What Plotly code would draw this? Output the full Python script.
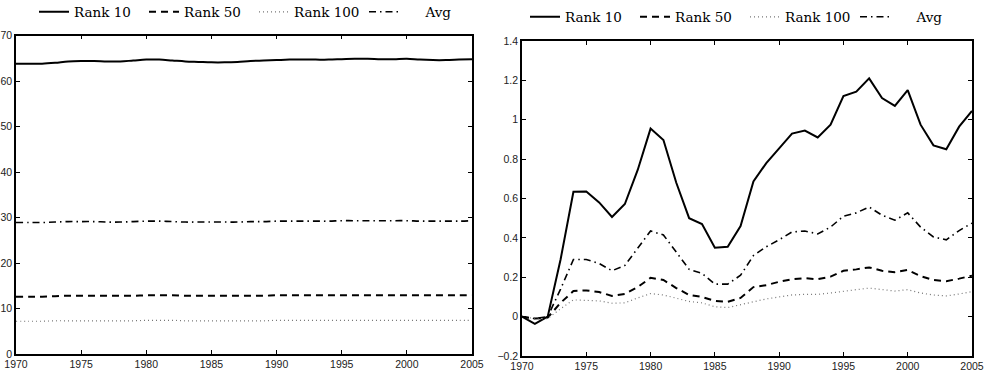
import plotly.graph_objects as go

years = list(range(1970, 2006))

# Left panel: levels
lvl_rank10 = [63.8, 63.8, 63.8, 64.0, 64.3, 64.4, 64.4, 64.3, 64.3, 64.5, 64.7, 64.7,
              64.5, 64.3, 64.2, 64.1, 64.1, 64.2, 64.4, 64.5, 64.6, 64.7, 64.7, 64.7,
              64.7, 64.8, 64.9, 64.9, 64.8, 64.8, 64.9, 64.7, 64.6, 64.6, 64.7, 64.8]
lvl_rank50 = [12.6, 12.6, 12.6, 12.7, 12.8, 12.8, 12.8, 12.8, 12.8, 12.8, 12.9, 12.9,
              12.9, 12.8, 12.8, 12.8, 12.8, 12.8, 12.8, 12.8, 12.9, 12.9, 12.9, 12.9,
              12.9, 12.9, 12.9, 12.9, 12.9, 12.9, 12.9, 12.9, 12.9, 12.9, 12.9, 12.9]
lvl_rank100 = [7.2, 7.2, 7.2, 7.3, 7.3, 7.3, 7.3, 7.3, 7.3, 7.3, 7.4, 7.4,
               7.4, 7.3, 7.3, 7.3, 7.3, 7.3, 7.3, 7.3, 7.4, 7.4, 7.4, 7.4,
               7.4, 7.4, 7.4, 7.4, 7.4, 7.4, 7.4, 7.4, 7.4, 7.4, 7.4, 7.4]
lvl_avg = [28.9, 28.9, 28.9, 29.0, 29.1, 29.1, 29.1, 29.0, 29.0, 29.1, 29.2, 29.2,
           29.1, 29.0, 29.0, 29.0, 29.0, 29.0, 29.1, 29.1, 29.2, 29.2, 29.2, 29.2,
           29.2, 29.3, 29.3, 29.3, 29.3, 29.3, 29.3, 29.2, 29.2, 29.2, 29.2, 29.3]

# Right panel: changes relative to 1970
chg_rank10 = [0.0, -0.037, 0.0, 0.29, 0.634, 0.636, 0.58, 0.506, 0.572, 0.745, 0.955, 0.897,
              0.68, 0.50, 0.47, 0.35, 0.355, 0.46, 0.687, 0.78, 0.855, 0.93, 0.945, 0.91,
              0.975, 1.12, 1.143, 1.21, 1.11, 1.07, 1.15, 0.975, 0.87, 0.85, 0.965, 1.045]
chg_rank50 = [0.0, -0.01, -0.005, 0.07, 0.13, 0.133, 0.125, 0.105, 0.115, 0.15, 0.197, 0.186,
              0.145, 0.11, 0.10, 0.08, 0.075, 0.095, 0.15, 0.16, 0.177, 0.19, 0.195, 0.19,
              0.203, 0.233, 0.24, 0.25, 0.233, 0.226, 0.237, 0.206, 0.186, 0.18, 0.193, 0.208]
chg_rank100 = [0.0, -0.01, -0.01, 0.04, 0.085, 0.082, 0.08, 0.068, 0.07, 0.095, 0.117, 0.11,
               0.095, 0.077, 0.07, 0.05, 0.046, 0.06, 0.077, 0.09, 0.10, 0.11, 0.113, 0.113,
               0.12, 0.13, 0.137, 0.145, 0.137, 0.13, 0.137, 0.12, 0.11, 0.105, 0.115, 0.127]
chg_avg = [0.0, -0.01, 0.0, 0.14, 0.29, 0.29, 0.27, 0.233, 0.26, 0.35, 0.435, 0.415,
           0.33, 0.24, 0.22, 0.165, 0.165, 0.21, 0.31, 0.355, 0.39, 0.43, 0.435, 0.42,
           0.455, 0.51, 0.527, 0.557, 0.515, 0.49, 0.527, 0.455, 0.405, 0.39, 0.437, 0.475]

series_names = ["Rank 10", "Rank 50", "Rank 100", "\u00a0" * 5 + "Avg"]
styles = [
    dict(color="black", width=2, dash="solid"),
    dict(color="black", width=2, dash="7px,5px"),
    dict(color="#777777", width=1.2, dash="1px,3px"),
    dict(color="black", width=1.6, dash="7px,4px,1.5px,4px"),
]

W, H = 985, 373
fig = go.Figure()

left_sets = [lvl_rank10, lvl_rank50, lvl_rank100, lvl_avg]
right_sets = [chg_rank10, chg_rank50, chg_rank100, chg_avg]

for name, ys, st in zip(series_names, left_sets, styles):
    fig.add_trace(go.Scatter(x=years, y=ys, mode="lines", name=name, line=dict(shape="spline", **st),
                             xaxis="x", yaxis="y", legend="legend"))
for name, ys, st in zip(series_names, right_sets, styles):
    fig.add_trace(go.Scatter(x=years, y=ys, mode="lines", name=name, line=st,
                             xaxis="x2", yaxis="y2", legend="legend2"))

tick_font = dict(family="Liberation Sans, Arial, sans-serif", size=10.5, color="#222222")
axis_common = dict(showline=True, linecolor="black", linewidth=1.5, mirror="ticks",
                   ticks="inside", ticklen=4, tickcolor="black", tickwidth=1,
                   showgrid=False, zeroline=False, tickfont=tick_font)

legend_common = dict(orientation="h", bgcolor="rgba(0,0,0,0)", borderwidth=0,
                     font=dict(family="DejaVu Serif, serif", size=13.5, color="black"),
                     itemwidth=30, entrywidthmode="pixels", entrywidth=65,
                     xanchor="left", yanchor="middle", tracegroupgap=0)

fig.update_layout(
    width=W, height=H,
    margin=dict(l=0, r=0, t=0, b=0, autoexpand=False),
    paper_bgcolor="white", plot_bgcolor="white",
    showlegend=True,
    xaxis=dict(domain=[16 / W, 472 / W], range=[1970, 2005], dtick=5, tick0=1970,
               anchor="y", **axis_common),
    yaxis=dict(domain=[(H - 354) / H, (H - 35.5) / H], range=[0, 70], dtick=10,
               anchor="x", **axis_common),
    xaxis2=dict(domain=[522 / W, 972 / W], range=[1970, 2005], dtick=5, tick0=1970,
                anchor="y2", **axis_common),
    yaxis2=dict(domain=[(H - 356) / H, (H - 41) / H], range=[-0.2, 1.4], dtick=0.2,
                tickformat="~g", anchor="x2", **axis_common),
    legend=dict(x=34 / W, y=(H - 12) / H, **legend_common),
    legend2=dict(x=525 / W, y=(H - 17) / H, **legend_common),
)

fig.write_html("out.html")
